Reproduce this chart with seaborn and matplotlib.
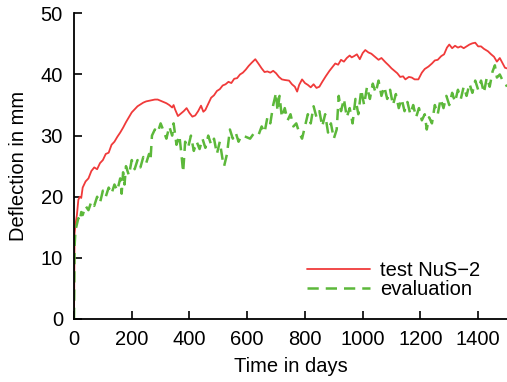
import matplotlib
matplotlib.use("Agg")
import matplotlib.pyplot as plt
import numpy as np
import pandas as pd
import seaborn as sns

test_days = [0, 2, 5, 10, 15, 20, 25, 30, 40, 50, 60, 70, 80, 90, 100, 110, 120, 130, 140, 150,
             160, 170, 180, 190, 200, 210, 220, 230, 240, 250, 260, 270, 280, 290, 300, 310, 320,
             330, 340, 345, 350, 360, 370, 380, 390, 400, 410, 420, 430, 440, 448, 455, 465, 475,
             485, 495, 505, 515, 525, 535, 545, 555, 565, 575, 585, 595, 605, 615, 628, 640, 650,
             660, 670, 680, 690, 700, 710, 720, 730, 745, 755, 765, 773, 780, 790, 800, 810, 820,
             830, 840, 850, 860, 872, 885, 895, 905, 915, 925, 935, 945, 955, 962, 970, 980, 990,
             1000, 1009, 1020, 1030, 1045, 1055, 1065, 1079, 1090, 1100, 1110, 1120, 1130, 1140,
             1148, 1160, 1170, 1180, 1193, 1205, 1215, 1228, 1240, 1250, 1260, 1272, 1282, 1292,
             1300, 1310, 1320, 1330, 1340, 1350, 1360, 1370, 1380, 1390, 1400, 1410, 1420, 1434,
             1445, 1455, 1465, 1475, 1485, 1493, 1500]
test_vals = [0, 14, 15.5, 17, 19.5, 20, 19.8, 21.5, 22.5, 23, 24.2, 24.8, 24.5, 25.5, 26, 27, 27.2,
             28.5, 29, 29.8, 30.5, 31.3, 32.2, 33, 33.8, 34.3, 34.8, 35.1, 35.4, 35.6, 35.7, 35.8,
             35.9, 35.9, 35.7, 35.5, 35.3, 35, 34.6, 35, 34.3, 33.2, 33.6, 34, 34.5, 33.7, 33.1,
             33.3, 34, 34.9, 33.9, 34.2, 35.2, 36.2, 36.6, 37.3, 37.6, 38.2, 38.4, 38.8, 38.6, 39.3,
             39.4, 40, 40.3, 40.8, 41.4, 41.9, 42.5, 41.7, 41, 40.4, 40.5, 40.3, 40.6, 40.2, 39.6,
             39.2, 39.1, 39, 38.4, 38, 37.2, 38.3, 39.2, 38.6, 38.3, 37.9, 38.4, 37.8, 38, 38.8,
             39.7, 40.6, 41.2, 41.8, 41.6, 42.4, 42.1, 42.7, 43.1, 42.8, 43, 43.3, 42.5, 43.5, 44,
             43.6, 43.4, 42.8, 42.4, 42.7, 42, 41.5, 41, 40.6, 40.2, 39.6, 39.7, 39.2, 39.6, 39.5,
             39.2, 39.2, 40.3, 40.9, 41.3, 41.8, 42.3, 42.4, 43, 43.3, 44.4, 44.9, 44.3, 44.7, 44.4,
             44.6, 44.3, 44.6, 44.9, 45.1, 45.2, 44.6, 44.6, 44.2, 43.8, 43.3, 42.9, 42.1, 42.7,
             41.8, 41.1, 41]

# Evaluated deflection
eval_days = [0, 2, 5, 10, 15, 20, 25, 30, 40, 50, 60, 70, 80, 90, 100, 110, 120, 130, 140, 150,
             160, 165, 170, 175, 180, 190, 200, 210, 220, 230, 240, 250, 260, 265, 270, 280, 290,
             300, 310, 320, 330, 340, 345, 355, 365, 372, 378, 385, 395, 405, 415, 425, 435, 445,
             455, 465, 475, 485, 495, 505, 515, 520, 530, 540, 550, 560, 570, 580, 595, 610, 625,
             640, 650, 660, 670, 680, 690, 700, 705, 712, 720, 730, 740, 750, 760, 770, 780, 790,
             800, 810, 820, 830, 840, 850, 860, 870, 880, 890, 900, 910, 917, 925, 935, 945, 955,
             965, 975, 985, 995, 1005, 1015, 1025, 1035, 1045, 1055, 1065, 1075, 1085, 1095, 1105,
             1115, 1125, 1135, 1145, 1155, 1165, 1175, 1185, 1195, 1205, 1215, 1222, 1230, 1240,
             1250, 1260, 1270, 1280, 1290, 1300, 1310, 1320, 1330, 1340, 1350, 1360, 1370, 1380,
             1390, 1400, 1410, 1420, 1430, 1440, 1450, 1458, 1465, 1475, 1485, 1495, 1500]
eval_vals = [0, 12, 14.5, 15.5, 16.5, 16, 17.5, 17, 18.5, 17.8, 19.2, 18.5, 20, 19, 21, 20, 21.5,
             20.5, 22, 21, 23, 20.5, 24, 22, 25, 23.5, 26, 24.5, 26, 24.8, 26.5, 25.5, 27, 26, 30,
             31, 30.5, 32, 30.8, 29.5, 31.5, 30, 32, 28.5, 30, 27, 24, 29, 28, 30, 27.5, 29, 27.8,
             29.5, 28, 30, 28.5, 29.5, 27, 29, 26, 25, 27, 31, 29.5, 30.5, 29, 30, 29.8, 29.5, 30.5,
             30.2, 31.5, 30.5, 33, 32, 35, 37, 34, 36.5, 33, 34.5, 32.5, 33.5, 31.5, 32, 30.5, 29.5,
             31.5, 33.5, 32, 34.8, 33, 34, 31.5, 33.5, 30.5, 32, 29.5, 31, 36.5, 34, 36, 33, 34.5,
             32, 36, 33.5, 37.5, 35, 38, 36, 38.5, 37, 39, 36.5, 38, 36, 37.5, 35, 36.8, 34.5, 36,
             34, 35.5, 33.5, 35, 33, 34.5, 32.5, 33.5, 31, 33, 32, 35, 33.5, 36, 34.5, 36.5, 35,
             37, 35.5, 37.5, 36, 38, 36.5, 38.5, 37, 39, 37.5, 39, 37, 39.5, 38, 40.5, 41.5, 39.5,
             40, 39, 38.5, 38]

test_df = pd.DataFrame({"day": test_days, "deflection": test_vals})
eval_df = pd.DataFrame({"day": eval_days, "deflection": eval_vals})

sns.set_style("ticks", {"axes.edgecolor": "black", "text.color": "black",
                        "xtick.color": "black", "ytick.color": "black",
                        "axes.labelcolor": "black"})
plt.rcParams["font.family"] = ["Liberation Sans", "DejaVu Sans"]

fig = plt.figure(figsize=(5.07, 3.82), dpi=100)
ax = fig.add_axes([0.146, 0.165, 0.854, 0.8])

sns.lineplot(data=test_df, x="day", y="deflection", ax=ax, color="#f03a3a",
             linewidth=1.3, label="test NuS\u22122")
sns.lineplot(data=eval_df, x="day", y="deflection", ax=ax, color="#5cb83a",
             linewidth=1.8, linestyle=(0, (4.5, 2.8)), label="evaluation")

ax.set_xlim(0, 1500)
ax.set_ylim(0, 50)
ax.set_xticks([0, 200, 400, 600, 800, 1000, 1200, 1400])
ax.set_yticks([0, 10, 20, 30, 40, 50])
ax.set_xlabel("Time in days", fontsize=14.5, labelpad=6)
ax.set_ylabel("Deflection in mm", fontsize=14.5, labelpad=9)
ax.tick_params(direction="in", length=6, width=1.2, labelsize=14.5, pad=8)
sns.despine(ax=ax)
for s in ["left", "bottom"]:
    ax.spines[s].set_linewidth(1.3)

ax.legend(loc="lower right", frameon=False, fontsize=14.5, handlelength=3.1,
          handletextpad=0.5, labelspacing=0.0, borderaxespad=0.3,
          bbox_to_anchor=(0.97, 0.02))

fig.savefig("out.png", dpi=100)
